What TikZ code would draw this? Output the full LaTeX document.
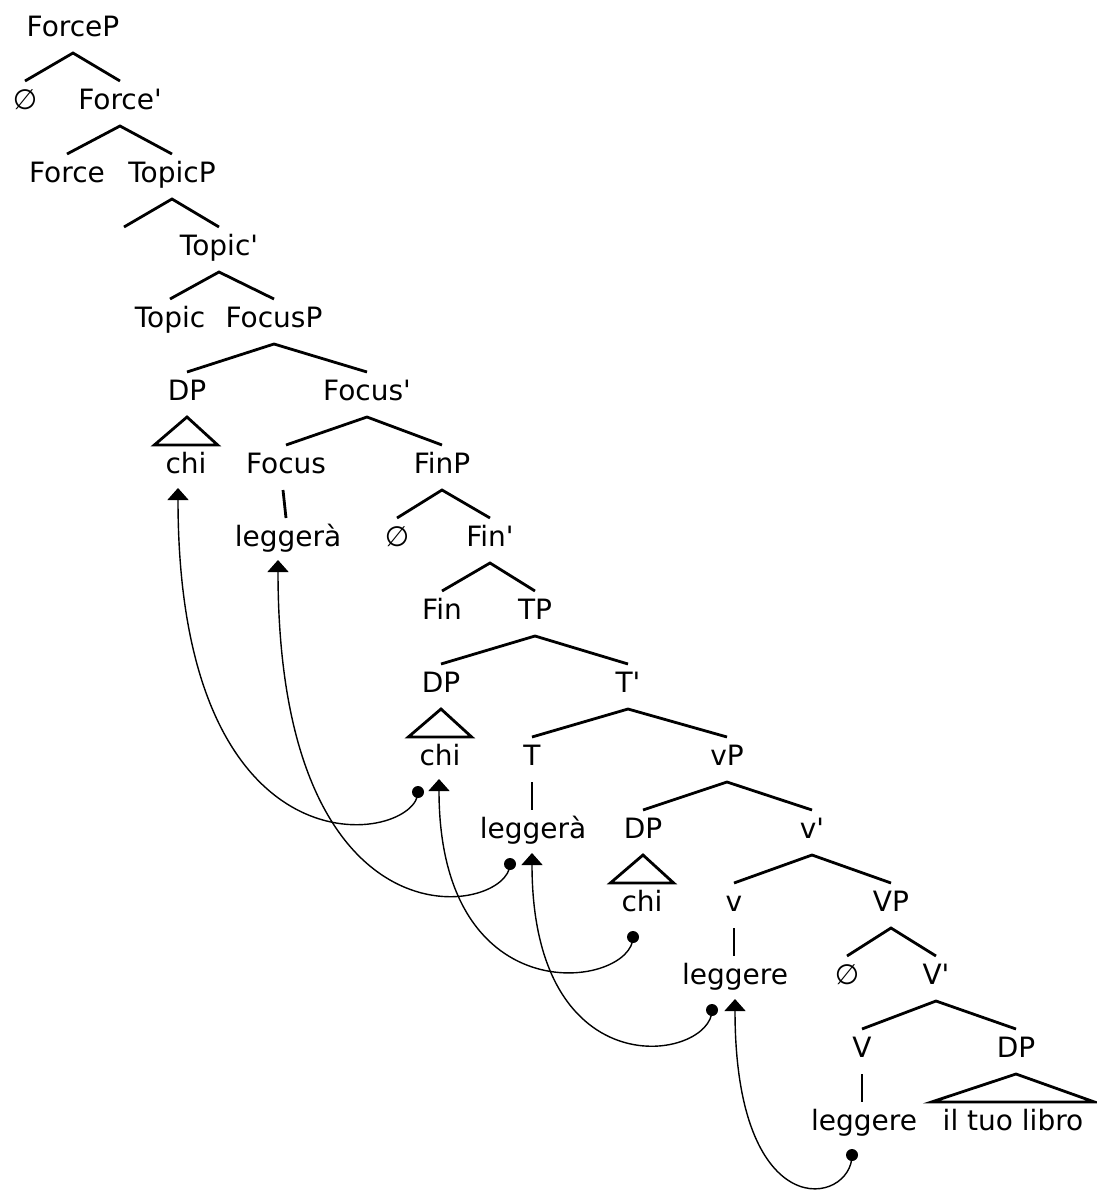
\documentclass[tikz,border=0pt]{standalone}
\usepackage{fontspec}
\setmainfont{DejaVu Sans}[Ligatures=TeXOff]
\usetikzlibrary{calc,arrows.meta}

% binary branching: parent, left child, right child
\newcommand\treeBin[3]{\draw[branch] ($(#2.base)+(0,-28)$) -- ($(#1.base)+(0,17)$) -- ($(#3.base)+(0,-28)$);}
% unary branching: parent, child (drawn straight down from the parent)
\newcommand\treeUni[2]{\draw[branch] ($(#1.base)+(0,17)$) coordinate (uniTop) -- (uniTop |- {$(#2.base)+(0,-28)$});}
% roof over an unanalysed phrase: parent, content
\newcommand\treeRoof[2]{\draw[branch] ($(#2.base west)+(-11,-28)$) -- ($(#1.base)+(0,17)$) -- ($(#2.base east)+(11,-28)$) -- cycle;}

\begin{document}
\begin{tikzpicture}[x=1pt,y=-1pt,
  lab/.style={inner sep=0pt,anchor=base,font=\fontsize{28}{32}\selectfont},
  branch/.style={line width=2.8pt,line join=miter},
  move/.style={line width=1.4pt,-{Triangle[width=21pt,length=12pt]}},
  ]
\useasboundingbox (0,0) rectangle (1097,1191);

% labels, row by row
\node[lab] (forceP)   at (73,36)    {ForceP};
\node[lab] (null1)    at (25,109)   {∅};
\node[lab] (forceBar) at (120,109)  {Force'};
\node[lab] (force)    at (67,182)   {Force};
\node[lab] (topicP)   at (172,182)  {TopicP};
\coordinate (topicSpec) at (124,227);
\node[lab] (topicBar) at (219,255)  {Topic'};
\node[lab] (topic)    at (170,327)  {Topic};
\node[lab] (focusP)   at (274,327)  {FocusP};
\node[lab] (dpA)      at (187,400)  {DP};
\node[lab] (focusBar) at (367,400)  {Focus'};
\node[lab] (chiA)     at (186,473)  {chi};
\node[lab] (focus)    at (286,473)  {Focus};
\node[lab] (finP)     at (442,473)  {FinP};
\node[lab] (legA)     at (288,546)  {leggerà};
\node[lab] (null2)    at (397,546)  {∅};
\node[lab] (finBar)   at (490,546)  {Fin'};
\node[lab] (fin)      at (442,619)  {Fin};
\node[lab] (tP)       at (535,619)  {TP};
\node[lab] (dpB)      at (441,692)  {DP};
\node[lab] (tBar)     at (628,692)  {T'};
\node[lab] (chiB)     at (440,765)  {chi};
\node[lab] (tHead)    at (532,765)  {T};
\node[lab] (vP)       at (727,765)  {vP};
\node[lab] (legB)     at (533,838)  {leggerà};
\node[lab] (dpC)      at (643,838)  {DP};
\node[lab] (vBar)     at (812,838)  {v'};
\node[lab] (chiC)     at (642,911)  {chi};
\node[lab] (vHead)    at (734,911)  {v};
\node[lab] (VP)       at (891,911)  {VP};
\node[lab] (legC)     at (735,984)  {leggere};
\node[lab] (null3)    at (847,984)  {∅};
\node[lab] (VBar)     at (936,984)  {V'};
\node[lab] (VHead)    at (862,1057) {V};
\node[lab] (dpD)      at (1016,1057){DP};
\node[lab] (legD)     at (864,1130) {leggere};
\node[lab] (book)     at (1013,1130){il tuo libro};

% branches
\treeBin{forceP}{null1}{forceBar}
\treeBin{forceBar}{force}{topicP}
\draw[branch] (topicSpec) -- ($(topicP.base)+(0,17)$) -- ($(topicBar.base)+(0,-28)$);
\treeBin{topicBar}{topic}{focusP}
\treeBin{focusP}{dpA}{focusBar}
\treeRoof{dpA}{chiA}
\treeBin{focusBar}{focus}{finP}
\draw[branch] ($(focus.base)+(-3,17)$) -- ($(legA.base)+(-2,-28)$);
\treeBin{finP}{null2}{finBar}
\treeBin{finBar}{fin}{tP}
\treeBin{tP}{dpB}{tBar}
\treeRoof{dpB}{chiB}
\treeBin{tBar}{tHead}{vP}
\treeUni{tHead}{legB}
\treeBin{vP}{dpC}{vBar}
\treeRoof{dpC}{chiC}
\treeBin{vBar}{vHead}{VP}
\treeUni{vHead}{legC}
\treeBin{VP}{null3}{VBar}
\treeBin{VBar}{VHead}{dpD}
\treeUni{VHead}{legD}
\treeRoof{dpD}{book}

% movement: traces (dots) and landing sites (arrow tips)
\coordinate (d1) at ($(chiB.base)+(-22,27)$);  \coordinate (h1) at ($(chiA.base)+(-8,15)$);
\coordinate (d2) at ($(legB.base)+(-23,26)$);  \coordinate (h2) at ($(legA.base)+(-10,14)$);
\coordinate (d3) at ($(chiC.base)+(-9,26)$);   \coordinate (h3) at ($(chiB.base)+(-1,14)$);
\coordinate (d4) at ($(legC.base)+(-23,26)$);  \coordinate (h4) at ($(legB.base)+(-1,15)$);
\coordinate (d5) at ($(legD.base)+(-12,25)$);  \coordinate (h5) at ($(legC.base)+(0,15)$);

\draw[move] (d1) .. controls +(0,50) and +(0,400) .. (h1);
\draw[move] (d2) .. controls +(0,50) and +(0,400) .. (h2);
\draw[move] (d3) .. controls +(0,50) and +(0,240) .. (h3);
\draw[move] (d4) .. controls +(0,50) and +(0,240) .. (h4);
\draw[move] (d5) .. controls +(0,50) and +(0,230) .. (h5);
\foreach \d in {d1,d2,d3,d4,d5} \fill (\d) circle[radius=6pt];
\end{tikzpicture}
\end{document}
